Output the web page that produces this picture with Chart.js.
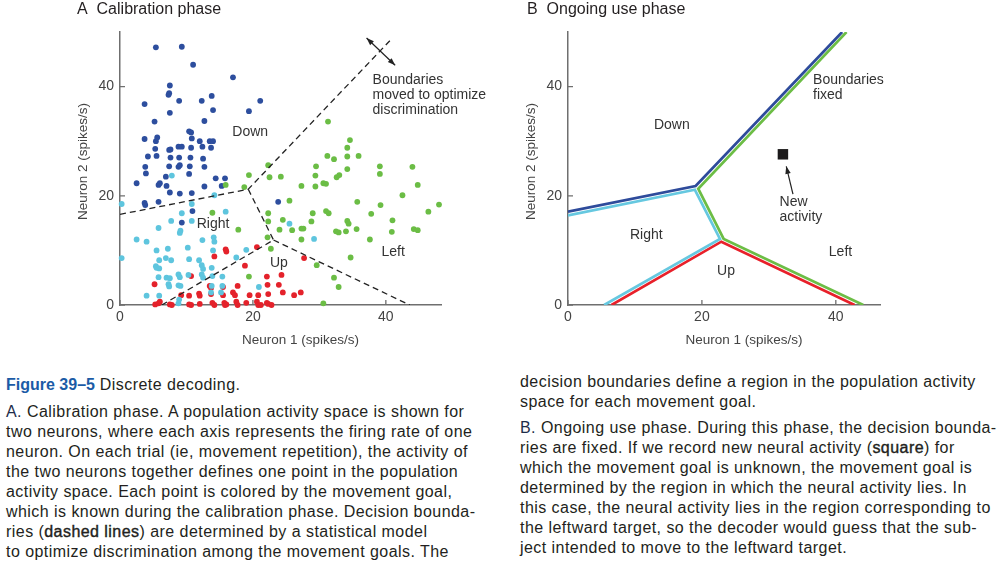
<!DOCTYPE html>
<html>
<head>
<meta charset="utf-8">
<script src="https://cdn.jsdelivr.net/npm/chart.js@4/dist/chart.umd.min.js"></script>
<style>
  body { margin: 0; width: 1000px; height: 565px; background: #fff; position: relative; overflow: hidden;
         font-family: "Liberation Sans", Arial, sans-serif; color: #231f20; }
  .panel { position: absolute; top: 0; height: 360px; }
  .ptitle { position: absolute; top: 0; font-size: 16px; line-height: 18px; color: #231f20; white-space: nowrap; }
  .cap { position: absolute; font-size: 16px; line-height: 20px; letter-spacing: 0.45px; white-space: nowrap; }
  .fig { color: #1b5ba6; font-weight: bold; letter-spacing: 0; }
  .lead { color: #1e2d4a; }
  .term { -webkit-text-stroke: 0.4px #231f20; }
</style>
</head>
<body>
<div class="panel" style="left:0;width:500px"><canvas id="calibrationChart"></canvas></div>
<div class="panel" style="left:500px;width:400px"><canvas id="ongoingChart"></canvas></div>

<div class="ptitle" style="left:77px">A&nbsp;&nbsp;Calibration phase</div>
<div class="ptitle" style="left:527px">B&nbsp;&nbsp;Ongoing use phase</div>

<div class="cap" style="left:6px;top:375px"><span class="fig">Figure 39–5</span> Discrete decoding.</div>
<div class="cap" style="left:6px;top:402px">
<span class="lead">A.</span> Calibration phase. A population activity space is shown for<br>
two neurons, where each axis represents the firing rate of one<br>
neuron. On each trial (ie, movement repetition), the activity of<br>
the two neurons together defines one point in the population<br>
activity space. Each point is colored by the movement goal,<br>
which is known during the calibration phase. Decision bounda-<br>
ries (<span class="term">dashed lines</span>) are determined by a statistical model<br>
to optimize discrimination among the movement goals. The
</div>
<div class="cap" style="left:520px;top:372px">
decision boundaries define a region in the population activity<br>
space for each movement goal.
</div>
<div class="cap" style="left:520px;top:418px">
<span class="lead">B.</span> Ongoing use phase. During this phase, the decision bounda-<br>
ries are fixed. If we record new neural activity (<span class="term">square</span>) for<br>
which the movement goal is unknown, the movement goal is<br>
determined by the region in which the neural activity lies. In<br>
this case, the neural activity lies in the region corresponding to<br>
the leftward target, so the decoder would guess that the sub-<br>
ject intended to move to the leftward target.
</div>

<script>
// Discrete decoding figure — two scatter/line panels in neuron 1 x neuron 2 space
// All points are [neuron 1, neuron 2] firing rates in spikes/s

// ── Data — calibration trials by movement goal ─────────────
const downTrials = [
  [5.4, 47.2], [9.3, 47.3], [11.0, 44.0], [17.0, 41.7], [7.5, 40.2], [7.4, 38.8], [7.3, 38.5],
  [3.7, 36.8], [8.9, 37.4], [12.3, 37.4], [13.8, 38.3], [21.1, 37.4], [19.4, 35.5], [14.0, 35.7],
  [7.5, 35.2], [5.2, 33.6], [12.7, 33.7], [10.4, 31.8], [10.7, 31.6], [3.7, 30.4], [5.4, 30.0],
  [5.6, 30.7], [10.8, 30.5], [12.0, 30.0], [13.5, 30.0], [14.0, 30.0], [5.3, 28.6], [7.4, 28.4],
  [7.6, 28.5], [8.8, 29.0], [9.3, 29.0], [10.7, 28.8], [12.4, 29.0], [13.7, 28.8], [4.2, 27.2],
  [5.5, 27.3], [7.6, 27.0], [8.9, 27.0], [10.6, 27.0], [12.5, 26.8], [3.8, 25.3], [7.4, 25.4],
  [8.8, 25.3], [9.0, 25.6], [10.5, 25.4], [12.7, 25.3], [3.9, 24.1], [10.4, 24.0], [6.9, 23.5],
  [2.5, 22.3], [5.8, 22.0], [6.0, 22.3], [7.0, 21.8], [7.5, 20.6], [9.0, 20.4], [10.8, 20.5],
  [12.7, 21.7], [14.4, 23.2], [15.8, 23.2], [15.3, 21.8], [3.7, 18.7], [3.8, 18.3], [5.8, 18.9],
  [10.9, 17.2], [9.3, 15.1], [23.8, 18.9],
];
const rightTrials = [
  [7.8, 23.7], [0.25, 18.5], [10.8, 18.5], [14.2, 20.1], [15.9, 17.1], [9.3, 16.8], [7.7, 15.4],
  [10.8, 15.4], [5.8, 14.1], [9.1, 13.6], [9.0, 13.2], [2.5, 12.0], [4.0, 11.6], [12.4, 11.9],
  [14.1, 12.4], [14.2, 11.6], [0.25, 8.6], [5.5, 10.0], [7.2, 10.3], [10.2, 10.5], [14.0, 10.0],
  [19.0, 10.1], [17.5, 8.7], [5.9, 8.2], [6.9, 8.6], [7.7, 8.2], [10.4, 8.4], [11.9, 8.2],
  [5.4, 7.1], [5.5, 6.8], [5.9, 6.7], [12.3, 7.3], [12.5, 6.6], [13.8, 6.8], [5.8, 5.1],
  [7.0, 5.0], [7.5, 4.9], [8.8, 5.6], [9.0, 5.1], [10.3, 5.5], [12.3, 5.6], [12.5, 5.0],
  [13.9, 5.3], [15.4, 5.2], [7.3, 3.8], [7.4, 3.4], [8.8, 3.6], [9.1, 3.5], [13.8, 3.5],
  [15.4, 3.5], [4.0, 1.7], [5.9, 1.7], [8.9, 1.0], [8.8, 0.3], [13.7, 2.3], [15.2, 2.3],
  [20.9, 3.3], [25.5, 14.9], [29.2, 12.1],
];
const upTrials = [
  [15.9, 10.2], [16.0, 9.8], [14.2, 8.9], [20.6, 10.6], [18.8, 7.2], [10.7, 5.3], [5.2, 3.8],
  [13.5, 3.5], [13.7, 3.1], [15.5, 3.3], [17.7, 3.5], [22.1, 5.2], [9.2, 1.8], [10.4, 1.7],
  [11.9, 2.1], [12.0, 1.7], [13.7, 2.0], [15.5, 1.8], [17.0, 2.3], [17.3, 1.8], [5.3, 0.1],
  [5.8, 0.3], [6.0, 0.6], [7.5, 0.1], [7.8, 0.0], [10.4, 0.1], [10.7, 0.0], [12.0, 0.2],
  [13.9, 0.4], [14.2, 0.0], [15.7, 0.4], [16.0, 0.1], [15.8, 0.0], [17.5, 0.6], [17.7, 0.0],
  [19.0, 0.4], [20.6, 0.6], [20.8, 0.0], [22.1, 0.4], [24.3, 5.5], [23.9, 3.7], [22.2, 3.7],
  [19.5, 1.8], [20.8, 1.8], [22.3, 2.0], [24.5, 2.3], [26.2, 1.8], [27.2, 2.3], [27.7, 8.6],
  [21.2, 0.0], [22.3, 0.2], [22.8, 0.0],
];
const leftTrials = [
  [15.9, 22.0], [13.9, 16.9], [17.8, 13.8], [19.4, 5.2], [31.3, 33.6], [34.6, 30.2], [34.2, 28.8],
  [31.2, 27.3], [32.2, 26.7], [34.2, 27.2], [35.9, 27.3], [22.3, 25.6], [29.5, 25.4], [34.2, 24.9],
  [39.1, 25.4], [44.0, 25.3], [39.1, 24.0], [19.4, 23.8], [22.5, 23.4], [24.2, 23.5], [29.4, 23.7],
  [32.6, 23.4], [33.0, 23.8], [27.3, 21.8], [29.4, 21.7], [30.6, 22.3], [31.0, 22.2], [44.8, 22.0],
  [18.7, 21.6], [42.5, 20.1], [25.5, 19.1], [35.7, 18.9], [39.2, 18.3], [48.0, 18.4], [46.4, 17.1],
  [31.0, 17.2], [31.4, 16.8], [29.0, 16.8], [37.8, 16.7], [22.3, 16.8], [22.3, 15.3], [24.5, 15.6],
  [28.8, 15.3], [34.2, 15.4], [34.4, 14.9], [41.0, 15.5], [24.0, 13.8], [25.9, 13.7], [27.3, 14.0],
  [27.6, 14.0], [32.5, 13.5], [32.9, 13.3], [34.0, 13.5], [35.6, 13.9], [40.9, 13.4], [44.2, 13.9],
  [44.8, 13.7], [27.3, 12.0], [37.6, 12.0], [22.2, 12.4], [22.7, 10.3], [34.7, 8.7], [29.6, 7.3],
  [32.2, 5.0], [32.9, 3.3], [30.6, 0.3],
];

// ── Data — boundaries ──────────────────────────────────────
// A: dashed boundaries found during calibration
const dashedUpper = [[0, 16.6], [19.3, 21.2], [40.6, 48.4]];
const dashedMiddle = [[19.3, 21.2], [23.1, 11.9], [6.3, 0]];
const dashedLower = [[23.1, 11.9], [43.6, 0]];
// B: fixed boundaries, each edge drawn in the colours of the two regions it separates
const downEdge = [[0, 17.1], [19.06, 21.8], [40.95, 50]];
const leftEdge = [[41.6, 50], [19.45, 21.3], [23.25, 12.1], [44.1, 0]];
const rightEdge = [[0, 16.4], [18.95, 21.1], [22.7, 12.1], [5.4, 0]];
const upEdge = [[6.5, 0], [22.9, 11.6], [42.8, 0]];
// B: newly recorded activity
const newActivity = [[32.1, 27.6]];

const axisTicks = [0, 20, 40];
const xTitle = "Neuron 1 (spikes/s)";
const yTitle = "Neuron 2 (spikes/s)";

// ── Annotations (data coordinates) ─────────────────────────
const labelsA = [
  { lines: ["Down"], x: 19.6, y: 31.6 },
  { lines: ["Right"], x: 14.0, y: 14.8 },
  { lines: ["Up"], x: 23.9, y: 7.6 },
  { lines: ["Left"], x: 41.1, y: 9.6 },
  { lines: ["Boundaries", "moved to optimize", "discrimination"], x: 38.0, y: 41.2, align: "left" },
];
const arrowsA = [{ from: [37.1, 48.9], to: [41.4, 43.9], both: true }];
const labelsB = [
  { lines: ["Down"], x: 15.5, y: 32.9 },
  { lines: ["Right"], x: 11.7, y: 12.8 },
  { lines: ["Up"], x: 23.6, y: 6.2 },
  { lines: ["Left"], x: 40.7, y: 9.6 },
  { lines: ["Boundaries", "fixed"], x: 36.6, y: 41.2, align: "left" },
  { lines: ["New", "activity"], x: 31.6, y: 18.8, align: "left" },
];
const arrowsB = [{ from: [33.6, 20.3], to: [32.6, 25.4], both: false }];

// ── Shared helpers ─────────────────────────────────────────
const FONT = '"Liberation Sans", Arial, sans-serif';
const AXIS = "#6f6f6f";
const TEXT = "#333";
const toXY = (pts) => pts.map(([x, y]) => ({ x, y }));

const dots = (data, color) => ({
  data: toXY(data),
  backgroundColor: color,
  borderWidth: 0,
  pointRadius: 2.9,
  clip: false,
});

const edge = (data, color, dashed) => ({
  data: toXY(data),
  showLine: true,
  borderColor: color,
  borderWidth: dashed ? 1.3 : 2.7,
  borderDash: dashed ? [6, 4] : [],
  pointRadius: 0,
  fill: false,
});

// inward ticks, axis titles (offset like the print), text labels and arrows
const annotate = {
  id: "annotate",
  afterDraw(chart, args, opts) {
    const { ctx, scales, chartArea } = chart;
    const x = scales.x, y = scales.y;
    ctx.save();
    ctx.strokeStyle = AXIS;
    ctx.lineWidth = 1.3;
    axisTicks.forEach((v) => {
      const px = x.getPixelForValue(v), py = y.getPixelForValue(v);
      ctx.beginPath();
      ctx.moveTo(px, y.bottom); ctx.lineTo(px, y.bottom - 5);
      ctx.moveTo(x.left, py); ctx.lineTo(x.left + 5, py);
      ctx.stroke();
    });

    ctx.fillStyle = "#444";
    ctx.font = "13.5px " + FONT;
    ctx.textAlign = "center";
    ctx.textBaseline = "middle";
    ctx.fillText(xTitle, (chartArea.left + chartArea.right) / 2 + 20, chartArea.bottom + 35);
    ctx.save();
    ctx.translate(chartArea.left - 37, (chartArea.top + chartArea.bottom) / 2 - 7);
    ctx.rotate(-Math.PI / 2);
    ctx.fillText(yTitle, 0, 0);
    ctx.restore();

    ctx.fillStyle = TEXT;
    ctx.font = "14px " + FONT;
    opts.labels.forEach((l) => {
      ctx.textAlign = l.align || "center";
      const px = x.getPixelForValue(l.x), py = y.getPixelForValue(l.y);
      l.lines.forEach((t, i) => ctx.fillText(t, px, py + i * 15));
    });

    ctx.strokeStyle = "#222";
    ctx.fillStyle = "#222";
    ctx.lineWidth = 1.2;
    opts.arrows.forEach((a) => {
      const x0 = x.getPixelForValue(a.from[0]), y0 = y.getPixelForValue(a.from[1]);
      const x1 = x.getPixelForValue(a.to[0]), y1 = y.getPixelForValue(a.to[1]);
      ctx.beginPath(); ctx.moveTo(x0, y0); ctx.lineTo(x1, y1); ctx.stroke();
      const head = (hx, hy, ang) => {
        ctx.beginPath();
        ctx.moveTo(hx, hy);
        ctx.lineTo(hx - 8 * Math.cos(ang - 0.35), hy - 8 * Math.sin(ang - 0.35));
        ctx.lineTo(hx - 8 * Math.cos(ang + 0.35), hy - 8 * Math.sin(ang + 0.35));
        ctx.closePath(); ctx.fill();
      };
      const ang = Math.atan2(y1 - y0, x1 - x0);
      head(x1, y1, ang);
      if (a.both) head(x0, y0, ang + Math.PI);
    });
    ctx.restore();
  },
};

const axes = (xMax, yAxisWidth) => ({
  x: {
    type: "linear", min: 0, max: xMax,
    afterBuildTicks: (s) => { s.ticks = axisTicks.map((v) => ({ value: v })); },
    afterFit: (s) => { s.height = 55; },
    grid: { display: false, drawTicks: false },
    border: { display: true, color: AXIS, width: 1.5 },
    ticks: { padding: 4, color: "#444", font: { family: FONT, size: 14 } },
  },
  y: {
    type: "linear", min: 0, max: 50,
    afterBuildTicks: (s) => { s.ticks = axisTicks.map((v) => ({ value: v })); },
    afterFit: (s) => { s.width = yAxisWidth; },
    grid: { display: false, drawTicks: false },
    border: { display: true, color: AXIS, width: 1.5 },
    ticks: { padding: 6, color: "#444", font: { family: FONT, size: 14 } },
  },
});

const baseOptions = (xMax, padding, yAxisWidth, labels, arrows) => ({
  responsive: true,
  maintainAspectRatio: false,
  animation: false,
  layout: { padding },
  scales: axes(xMax, yAxisWidth),
  plugins: {
    legend: { display: false },
    tooltip: { enabled: false },
    annotate: { labels, arrows },
  },
});

// ── Panel A — Calibration phase ────────────────────────────
const calCtx = document.getElementById("calibrationChart");

new Chart(calCtx, {
  type: "scatter",
  data: {
    datasets: [
      edge(dashedUpper, "#222", true),
      edge(dashedMiddle, "#222", true),
      edge(dashedLower, "#222", true),
      dots(leftTrials, "#6bbd45"),
      dots(rightTrials, "#5ec5de"),
      dots(upTrials, "#e4222b"),
      dots(downTrials, "#2d4e9e"),
    ],
  },
  options: baseOptions(48.3, { left: 72, top: 32, right: 59, bottom: 0 }, 48, labelsA, arrowsA),
  plugins: [annotate],
});

// ── Panel B — Ongoing use phase ────────────────────────────
const useCtx = document.getElementById("ongoingChart");

new Chart(useCtx, {
  type: "scatter",
  data: {
    datasets: [
      edge(downEdge, "#2e4b9b", false),
      edge(leftEdge, "#6cbd45", false),
      edge(rightEdge, "#66c8e0", false),
      edge(upEdge, "#e8202a", false),
      {
        data: toXY(newActivity),
        pointStyle: "rect",
        pointRadius: 7.4,
        backgroundColor: "#1c1a1b",
        borderWidth: 0,
      },
    ],
  },
  options: baseOptions(46.6, { left: 23, top: 32, right: 20, bottom: 0 }, 45, labelsB, arrowsB),
  plugins: [annotate],
});
</script>
</body>
</html>
